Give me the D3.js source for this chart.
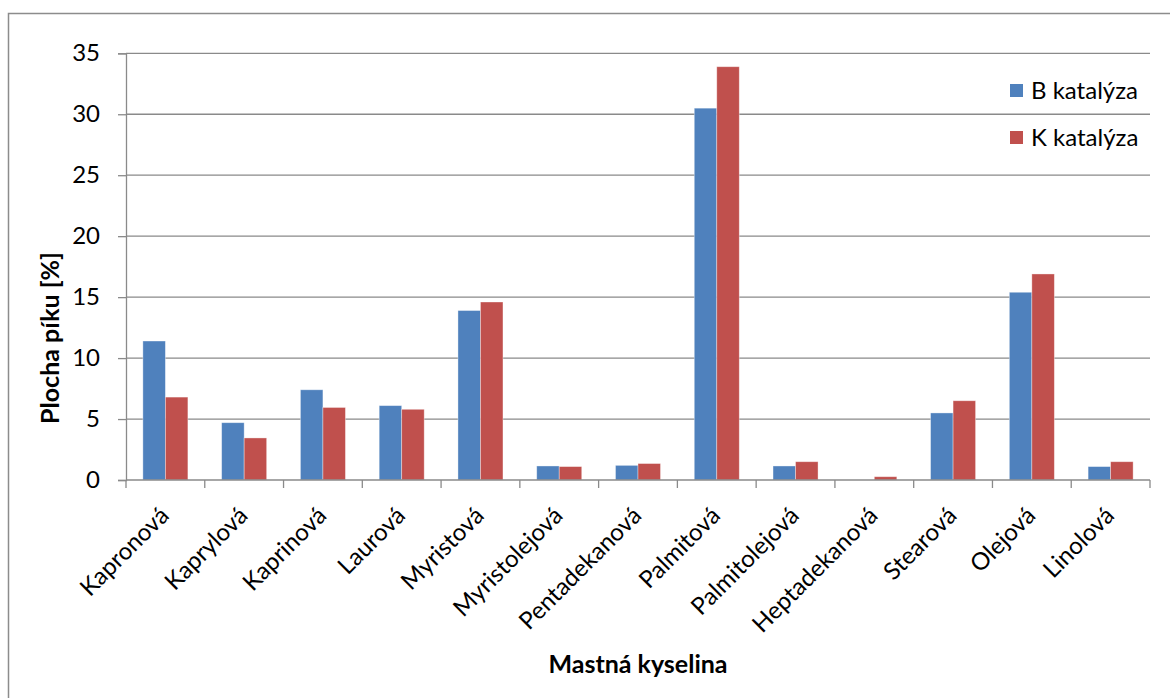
<!DOCTYPE html>
<html>
<head>
<meta charset="utf-8">
<script src="https://cdn.jsdelivr.net/npm/d3@7/dist/d3.min.js"></script>
<style>
  html, body { margin: 0; padding: 0; background: #ffffff; }
  svg { display: block; }
</style>
</head>
<body>
<svg id="chart" width="1170" height="698"></svg>
<script>
// Fatty acid names (x categories)
const categories = [
  "Kapronová", "Kaprylová", "Kaprinová", "Laurová", "Myristová",
  "Myristolejová", "Pentadekanová", "Palmitová", "Palmitolejová",
  "Heptadekanová", "Stearová", "Olejová", "Linolová"
];
// Peak area [%] for each catalysis
const seriesNames = ["B katalýza", "K katalýza"];
const valuesB = [11.4, 4.7, 7.4, 6.1, 13.9, 1.15, 1.2, 30.5, 1.15, 0, 5.5, 15.4, 1.1];
const valuesK = [6.8, 3.45, 5.95, 5.8, 14.6, 1.1, 1.35, 33.9, 1.5, 0.27, 6.5, 16.9, 1.5];
const seriesColors = ["#4F81BD", "#C0504D"];
const yTicks = [0, 5, 10, 15, 20, 25, 30, 35];
const yTitle = "Plocha píku [%]";
const xTitle = "Mastná kyselina";

const FONT = "Lato, 'Open Sans', sans-serif";
const FS = 24;
const svg = d3.select("#chart");

// Chart frame (only left and top edges fall inside the window)
svg.append("path")
  .attr("d", "M8.5,698 L8.5,13.5 L1170,13.5")
  .attr("fill", "none")
  .attr("stroke", "#8c8c8c")
  .attr("stroke-width", 1.5);

const plot = { left: 126, right: 1150, top: 53.3, bottom: 480 };

const x = d3.scaleBand().domain(categories).range([plot.left, plot.right]).padding(0);
const y = d3.scaleLinear().domain([0, 35]).range([plot.bottom, plot.top]);

// Excel-style gap width 150 % between clusters
const gapFrac = 1.5 / (1.5 + 2);
const xs = d3.scaleBand().domain(seriesNames)
  .range([x.bandwidth() * gapFrac / 2, x.bandwidth() * (1 - gapFrac / 2)])
  .padding(0);

// Horizontal gridlines
svg.append("g").selectAll("line")
  .data(yTicks.filter(t => t > 0))
  .join("line")
  .attr("x1", plot.left).attr("x2", plot.right)
  .attr("y1", d => y(d)).attr("y2", d => y(d))
  .attr("stroke", "#8a8a8a").attr("stroke-width", 1.3);

// Y axis
const yAxis = d3.axisLeft(y).tickValues(yTicks).tickSize(8).tickPadding(18).tickFormat(d3.format("d"));
const gy = svg.append("g").attr("transform", `translate(${plot.left},0)`).call(yAxis);
gy.select(".domain").attr("stroke", "#8a8a8a").attr("stroke-width", 1.3);
gy.selectAll(".tick line").attr("stroke", "#8a8a8a").attr("stroke-width", 1.3);
gy.selectAll(".tick text").attr("font-family", FONT).attr("font-size", FS).attr("fill", "#000");

// Bars
const rows = categories.map((c, i) => ({ cat: c, vals: [valuesB[i], valuesK[i]] }));
const groups = svg.append("g").selectAll("g")
  .data(rows).join("g")
  .attr("transform", d => `translate(${x(d.cat)},0)`);
groups.selectAll("rect")
  .data(d => d.vals.map((v, j) => ({ name: seriesNames[j], v, j })))
  .join("rect")
  .attr("x", d => xs(d.name))
  .attr("width", xs.bandwidth())
  .attr("y", d => y(d.v))
  .attr("height", d => y(0) - y(d.v))
  .attr("fill", d => seriesColors[d.j])
  .attr("stroke", "rgba(255,255,255,0.45)")
  .attr("stroke-width", 0.8);

// X axis with tick marks at cluster boundaries
const gx = svg.append("g").attr("transform", `translate(0,${plot.bottom})`);
gx.append("line")
  .attr("x1", plot.left).attr("x2", plot.right)
  .attr("stroke", "#8a8a8a").attr("stroke-width", 1.3);
const boundaries = categories.map(c => x(c)).concat([x(categories[categories.length - 1]) + x.bandwidth()]);
gx.selectAll("line.tk").data(boundaries).join("line")
  .attr("class", "tk")
  .attr("x1", d => d).attr("x2", d => d)
  .attr("y1", 0).attr("y2", 8)
  .attr("stroke", "#8a8a8a").attr("stroke-width", 1.3);

// Rotated category labels
svg.append("g").selectAll("text")
  .data(categories).join("text")
  .attr("transform", d => `translate(${x(d) + x.bandwidth() / 2 + 5},517) rotate(-45)`)
  .attr("text-anchor", "end")
  .attr("font-family", FONT).attr("font-size", FS).attr("fill", "#000")
  .text(d => d);

// Axis titles
svg.append("text")
  .attr("transform", "translate(59,338) rotate(-90)")
  .attr("text-anchor", "middle")
  .attr("font-family", FONT).attr("font-size", 25).attr("font-weight", "bold")
  .text(yTitle);

svg.append("text")
  .attr("x", (plot.left + plot.right) / 2).attr("y", 673)
  .attr("text-anchor", "middle")
  .attr("font-family", FONT).attr("font-size", 25).attr("font-weight", "bold")
  .text(xTitle);

// Legend
const legend = svg.append("g").selectAll("g")
  .data(seriesNames).join("g")
  .attr("transform", (d, i) => `translate(1010,${84 + i * 47})`);
legend.append("rect")
  .attr("width", 13).attr("height", 13)
  .attr("fill", (d, i) => seriesColors[i]);
legend.append("text")
  .attr("x", 21).attr("y", 15)
  .attr("font-family", FONT).attr("font-size", FS).attr("fill", "#000")
  .text(d => d);
</script>
</body>
</html>
